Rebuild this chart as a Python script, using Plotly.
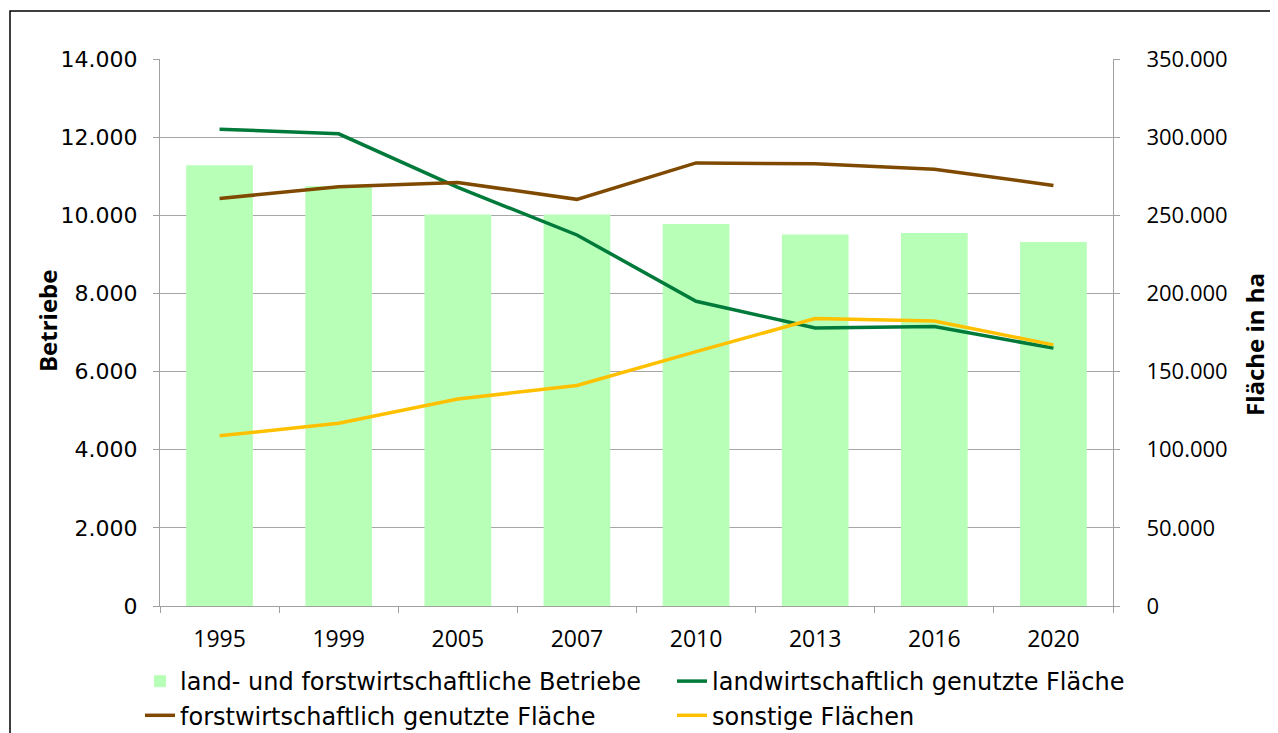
import plotly.graph_objects as go

years = ["1995", "1999", "2005", "2007", "2010", "2013", "2016", "2020"]
betriebe = [11280, 10750, 10020, 10020, 9780, 9510, 9545, 9315]
lw_flaeche = [305100, 302100, 267800, 237400, 195000, 177900, 178800, 165000]
fw_flaeche = [260800, 268200, 271000, 260200, 283500, 282900, 279500, 269100]
sonst_flaeche = [108900, 117000, 132400, 141100, 162800, 183900, 182400, 167100]

left_ticks = [0, 2000, 4000, 6000, 8000, 10000, 12000, 14000]
left_labels = ["0", "2.000", "4.000", "6.000", "8.000", "10.000", "12.000", "14.000"]
right_ticks = [0, 50000, 100000, 150000, 200000, 250000, 300000, 350000]
right_labels = ["0", "50.000", "100.000", "150.000", "200.000", "250.000", "300.000", "350.000"]

W, H = 1278, 733
OFF = 8  # page body margin
L, R, T, B = 160, 1113, 59, 606  # plot area in screenshot pixels

def px_x(x):
    return (x - L) / (R - L)

def px_y(y):
    return (B - y) / (B - T)

LEG_FONT = dict(family="DejaVu Sans", size=24, color="#000000")
TITLE_FONT = dict(family="Open Sans", size=24, color="#000000")

fig = go.Figure()
fig.add_trace(go.Bar(x=years, y=betriebe, name="land- und forstwirtschaftliche Betriebe",
                     marker=dict(color="#B8FFB8", line=dict(width=0)), yaxis="y",
                     legend="legend", legendgroup="a"))
fig.add_trace(go.Scatter(x=years, y=lw_flaeche, name="landwirtschaftlich genutzte Fläche",
                         mode="lines", line=dict(color="#007A3A", width=3.5), yaxis="y2",
                         legend="legend2", legendgroup="b"))
fig.add_trace(go.Scatter(x=years, y=fw_flaeche, name="forstwirtschaftlich genutzte Fläche",
                         mode="lines", line=dict(color="#7F4A00", width=3.5), yaxis="y2",
                         legend="legend", legendgroup="c"))
fig.add_trace(go.Scatter(x=years, y=sonst_flaeche, name="sonstige Flächen",
                         mode="lines", line=dict(color="#FFC000", width=3.5), yaxis="y2",
                         legend="legend2", legendgroup="d"))

fig.update_layout(
    width=W, height=H,
    margin=dict(l=L - OFF, r=W - (R - OFF), t=T - OFF, b=H - (B - OFF), pad=0, autoexpand=False),
    paper_bgcolor="white", plot_bgcolor="white",
    bargap=0.44,
    showlegend=True,
    legend=dict(orientation="v", x=px_x(140), y=px_y(659), xanchor="left", yanchor="top",
                font=LEG_FONT, traceorder="normal", itemwidth=30, tracegroupgap=0,
                bgcolor="rgba(0,0,0,0)"),
    legend2=dict(orientation="v", x=px_x(672), y=px_y(659), xanchor="left", yanchor="top",
                 font=LEG_FONT, traceorder="normal", itemwidth=30, tracegroupgap=0,
                 bgcolor="rgba(0,0,0,0)"),
    xaxis=dict(type="category", showgrid=False, showline=True, linecolor="#A0A0A0", linewidth=1,
               ticks="outside", tickson="boundaries", ticklen=6, tickcolor="#A0A0A0",
               tickfont=dict(family="Open Sans", size=23, color="#000000"),
               ticklabelstandoff=12),
    yaxis=dict(range=[0, 14000], tickvals=left_ticks, ticktext=left_labels,
               showgrid=True, gridcolor="#A6A6A6", gridwidth=1,
               showline=True, linecolor="#A0A0A0", linewidth=1,
               ticks="outside", ticklen=6, tickcolor="#A0A0A0",
               tickfont=dict(family="DejaVu Sans", size=22, color="#000000"),
               ticklabelstandoff=11, zeroline=False),
    yaxis2=dict(range=[0, 350000], tickvals=right_ticks, ticktext=right_labels,
                overlaying="y", side="right", showgrid=False,
                showline=True, linecolor="#A0A0A0", linewidth=1,
                ticks="outside", ticklen=6, tickcolor="#A0A0A0",
                tickfont=dict(family="Open Sans", size=22, color="#000000"),
                ticklabelstandoff=22, zeroline=False),
    annotations=[
        dict(text="<b>Betriebe</b>", xref="paper", yref="paper", x=px_x(47), y=px_y(321),
             xanchor="center", yanchor="middle", textangle=-90, showarrow=False, font=TITLE_FONT),
        dict(text="<b>Fläche in ha</b>", xref="paper", yref="paper", x=px_x(1254), y=px_y(345),
             xanchor="center", yanchor="middle", textangle=-90, showarrow=False, font=TITLE_FONT),
    ],
    shapes=[dict(type="rect", xref="paper", yref="paper",
                 x0=px_x(10), x1=px_x(1300), y0=px_y(760), y1=px_y(11),
                 line=dict(color="#000000", width=1.5), fillcolor="rgba(0,0,0,0)", layer="below")],
)

fig.write_html("out.html")
